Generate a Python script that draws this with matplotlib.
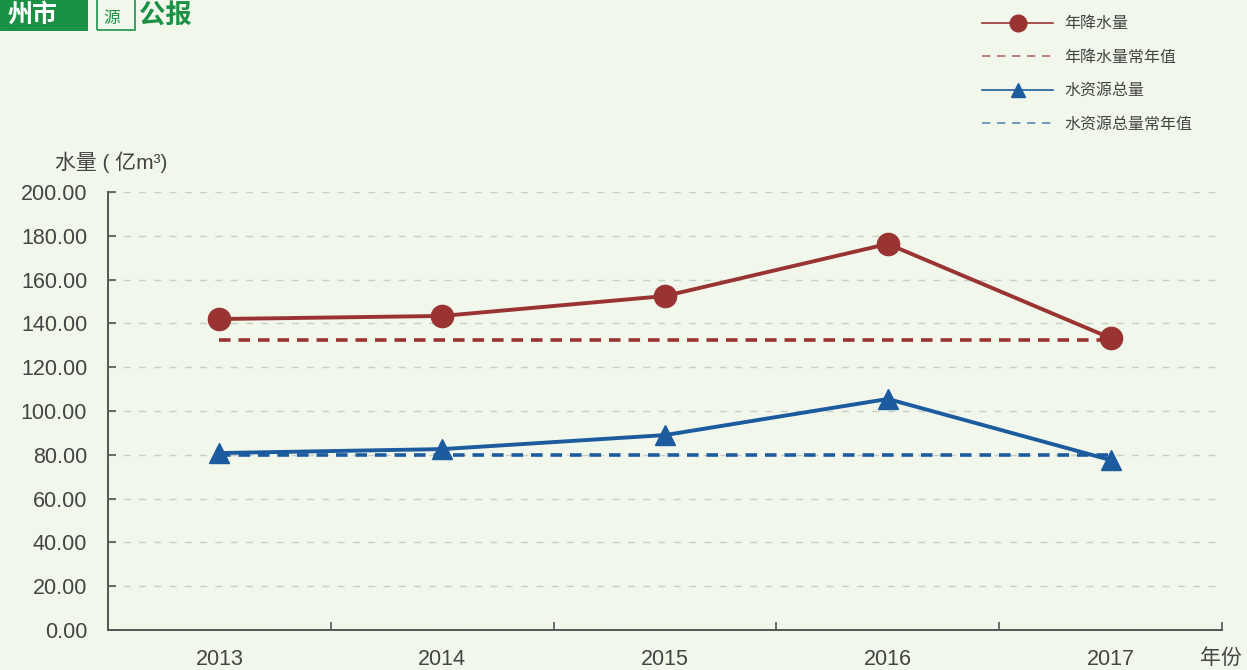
#!/usr/bin/env python3
"""年降水量与水资源总量（2013–2017）折线图。"""
import matplotlib
matplotlib.use("Agg")
import matplotlib.pyplot as plt
from matplotlib.lines import Line2D
from matplotlib.patches import Rectangle
import numpy as np

plt.rcParams["font.family"] = ["Liberation Sans", "Noto Sans CJK SC", "DejaVu Sans"]
plt.rcParams["axes.unicode_minus"] = False

YEARS = ["2013", "2014", "2015", "2016", "2017"]
RAIN = [142.0, 143.4, 152.5, 176.3, 133.3]
RAIN_NORMAL = [132.4] * 5
WATER = [80.8, 82.6, 89.0, 105.5, 77.6]
WATER_NORMAL = [79.9] * 5
YTICKS = [0, 20, 40, 60, 80, 100, 120, 140, 160, 180, 200]

BG = "#f1f7ea"
RED = "#9a3433"
BLUE = "#1d5b9f"
TXT = "#444444"
AX = "#555555"
GREEN = "#1b9146"

W_PX, H_PX, DPI = 1247, 670, 100
fig = plt.figure(figsize=(W_PX / DPI, H_PX / DPI), dpi=DPI)
fig.patch.set_facecolor(BG)
ax = fig.add_axes([108 / W_PX, 1 - 630 / H_PX, (1222 - 108) / W_PX, (630 - 192) / H_PX])
ax.set_facecolor(BG)

x = np.arange(len(YEARS))
ax.plot(x, RAIN, color=RED, lw=2.8, marker="o", ms=16, zorder=4)
ax.plot(x, RAIN_NORMAL, color=RED, lw=2.6, dashes=(3.2, 2.2), zorder=3)
ax.plot(x, WATER, color=BLUE, lw=2.8, marker="^", ms=14, zorder=4)
ax.plot(x, WATER_NORMAL, color=BLUE, lw=2.6, dashes=(3.2, 2.2), zorder=3)

ax.set_xlim(-0.5, len(YEARS) - 0.5)
ax.set_ylim(0, 200)
ax.set_yticks(YTICKS)
ax.set_yticklabels([f"{v:.2f}" for v in YTICKS], fontsize=15.5, color=TXT)
ax.set_xticks(np.arange(len(YEARS) + 1) - 0.5)
ax.set_xticklabels([])
ax.set_xticks(x, minor=True)
ax.set_xticklabels(YEARS, minor=True, fontsize=15.5, color=TXT)
ax.tick_params(axis="x", which="major", direction="in", length=6, color=AX, width=1.2)
ax.tick_params(axis="x", which="minor", length=0, pad=14)
ax.tick_params(axis="y", direction="in", length=6, color=AX, width=1.2, pad=15)

ax.grid(axis="y", color="#c9cec6", lw=1.0, dashes=(5, 6))
ax.set_axisbelow(True)
for side in ("top", "right"):
    ax.spines[side].set_visible(False)
for side in ("left", "bottom"):
    ax.spines[side].set_color(AX)
    ax.spines[side].set_linewidth(1.4)

fig.text(55 / W_PX, 1 - 162 / H_PX, "水量 ( 亿m³)", fontsize=15, color=TXT, va="center")
fig.text(1200 / W_PX, 1 - 658 / H_PX, "年份", fontsize=15, color=TXT, va="center")

# 图例
handles = [
    Line2D([], [], color=RED, lw=1.2, marker="o", ms=12),
    Line2D([], [], color=RED, lw=1.2, dashes=(5, 4), alpha=0.7),
    Line2D([], [], color=BLUE, lw=1.2, marker="^", ms=10),
    Line2D([], [], color=BLUE, lw=1.2, dashes=(5, 4), alpha=0.7),
]
labels = ["年降水量", "年降水量常年值", "水资源总量", "水资源总量常年值"]
fig.legend(handles, labels, loc="upper left", bbox_to_anchor=(968 / W_PX, 1 - 2 / H_PX),
           frameon=False, fontsize=11.5, handlelength=4.4, handletextpad=0.75,
           labelspacing=1.15, labelcolor=TXT)

# 页眉
fig.patches.append(Rectangle((0, 1 - 31 / H_PX), 88 / W_PX, 40 / H_PX,
                             transform=fig.transFigure, facecolor=GREEN, edgecolor="none"))
fig.text(8 / W_PX, 1 - 15 / H_PX, "州市", fontsize=18, fontweight="bold", color="white",
         va="center", family=["Noto Sans CJK SC"])
fig.patches.append(Rectangle((97 / W_PX, 1 - 30 / H_PX), 38 / W_PX, 40 / H_PX,
                             transform=fig.transFigure, facecolor="none", edgecolor=GREEN, lw=1.2))
fig.text(103 / W_PX, 1 - 19 / H_PX, "源", fontsize=12, color=GREEN, va="center",
         family=["Noto Sans CJK SC"])
fig.text(139 / W_PX, 1 - 16 / H_PX, "公报", fontsize=19, fontweight="bold", color=GREEN,
         va="center", family=["Noto Sans CJK SC"])

fig.savefig("out.png", facecolor=BG)
